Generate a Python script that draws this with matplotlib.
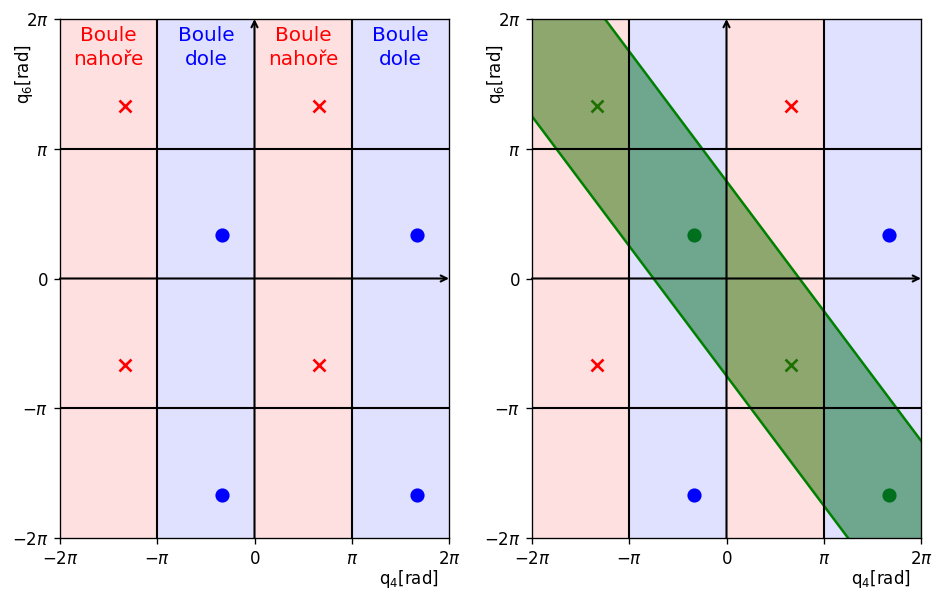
import numpy as np
import matplotlib
matplotlib.use("Agg")
import matplotlib.pyplot as plt

PI = np.pi
# data
red_x = [-4*PI/3, 2*PI/3, -4*PI/3, 2*PI/3]
red_y = [4*PI/3, 4*PI/3, -2*PI/3, -2*PI/3]
blue_x = [-PI/3, 5*PI/3, -PI/3, 5*PI/3]
blue_y = [PI/3, PI/3, -5*PI/3, -5*PI/3]
# points inside band (right plot)
green_cross_x = [-4*PI/3, 2*PI/3]
green_cross_y = [4*PI/3, -2*PI/3]
green_dot_x = [-PI/3, 5*PI/3]
green_dot_y = [PI/3, -5*PI/3]
red_x_right = [2*PI/3, -4*PI/3]
red_y_right = [4*PI/3, -2*PI/3]
blue_x_right = [5*PI/3, -PI/3]
blue_y_right = [PI/3, -5*PI/3]
band_half = 3*PI/4
ticks = [-2*PI, -PI, 0, PI, 2*PI]
tick_labels = [r'$-2\pi$', r'$-\pi$', r'$0$', r'$\pi$', r'$2\pi$']
red_spans = [(-2*PI, -PI), (0, PI)]
blue_spans = [(-PI, 0), (PI, 2*PI)]

fig = plt.figure(figsize=(936/120, 589/120), dpi=120)
ax1 = fig.add_axes([60/936, 51/589, 389/936, 519/589])
ax2 = fig.add_axes([532/936, 51/589, 389/936, 519/589])

LW = 1.25

def base(ax):
    for a, b in red_spans:
        ax.axvspan(a, b, color='red', alpha=0.12, lw=0, zorder=1)
    for a, b in blue_spans:
        ax.axvspan(a, b, color='blue', alpha=0.12, lw=0, zorder=1)
    for v in [-PI, PI]:
        ax.axvline(v, color='k', lw=LW, zorder=3)
        ax.axhline(v, color='k', lw=LW, zorder=3)
    ax.annotate('', xy=(0, 2*PI), xytext=(0, -2*PI),
                arrowprops=dict(arrowstyle='->', lw=LW, color='k', shrinkA=0, shrinkB=0,
                                mutation_scale=9), zorder=3)
    ax.annotate('', xy=(2*PI, 0), xytext=(-2*PI, 0),
                arrowprops=dict(arrowstyle='->', lw=LW, color='k', shrinkA=0, shrinkB=0,
                                mutation_scale=9), zorder=3)
    ax.set_xlim(-2*PI, 2*PI)
    ax.set_ylim(-2*PI, 2*PI)
    ax.set_xticks(ticks)
    ax.set_xticklabels(tick_labels)
    ax.set_yticks(ticks)
    ax.set_yticklabels(tick_labels)
    ax.set_xlabel('q$_4$[rad]')
    ax.set_ylabel('q$_6$[rad]')
    ax.xaxis.set_label_coords(0.897, -0.058)
    ax.yaxis.set_label_coords(-0.064, 0.894)

base(ax1)
ax1.plot(red_x, red_y, 'x', color='red', ms=7, mew=1.6, zorder=4)
ax1.plot(blue_x, blue_y, 'o', color='blue', ms=7.5, zorder=4)
for xc, lab, col in [(-3*PI/2, 'Boule\nnahoře', 'red'), (-PI/2, 'Boule\ndole', 'blue'),
                     (PI/2, 'Boule\nnahoře', 'red'), (3*PI/2, 'Boule\ndole', 'blue')]:
    ax1.text(xc, 2*PI - 0.17, lab, color=col, ha='center', va='top', fontsize=12,
             linespacing=1.35, zorder=5)

base(ax2)
xs = np.linspace(-2*PI, 2*PI, 200)
ax2.fill_between(xs, -xs - band_half, -xs + band_half, color='green', alpha=0.5, lw=0, zorder=0.5)
ax2.plot(xs, -xs - band_half, color='green', lw=1.5, zorder=2)
ax2.plot(xs, -xs + band_half, color='green', lw=1.5, zorder=2)
ax2.plot(red_x_right, red_y_right, 'x', color='red', ms=7, mew=1.6, zorder=4)
ax2.plot(blue_x_right, blue_y_right, 'o', color='blue', ms=7.5, zorder=4)
ax2.plot(green_cross_x, green_cross_y, 'x', color='green', ms=7, mew=1.6, zorder=0.8)
ax2.plot(green_dot_x, green_dot_y, 'o', color='green', ms=7.5, zorder=0.8)

fig.savefig('out.png', dpi=120)
